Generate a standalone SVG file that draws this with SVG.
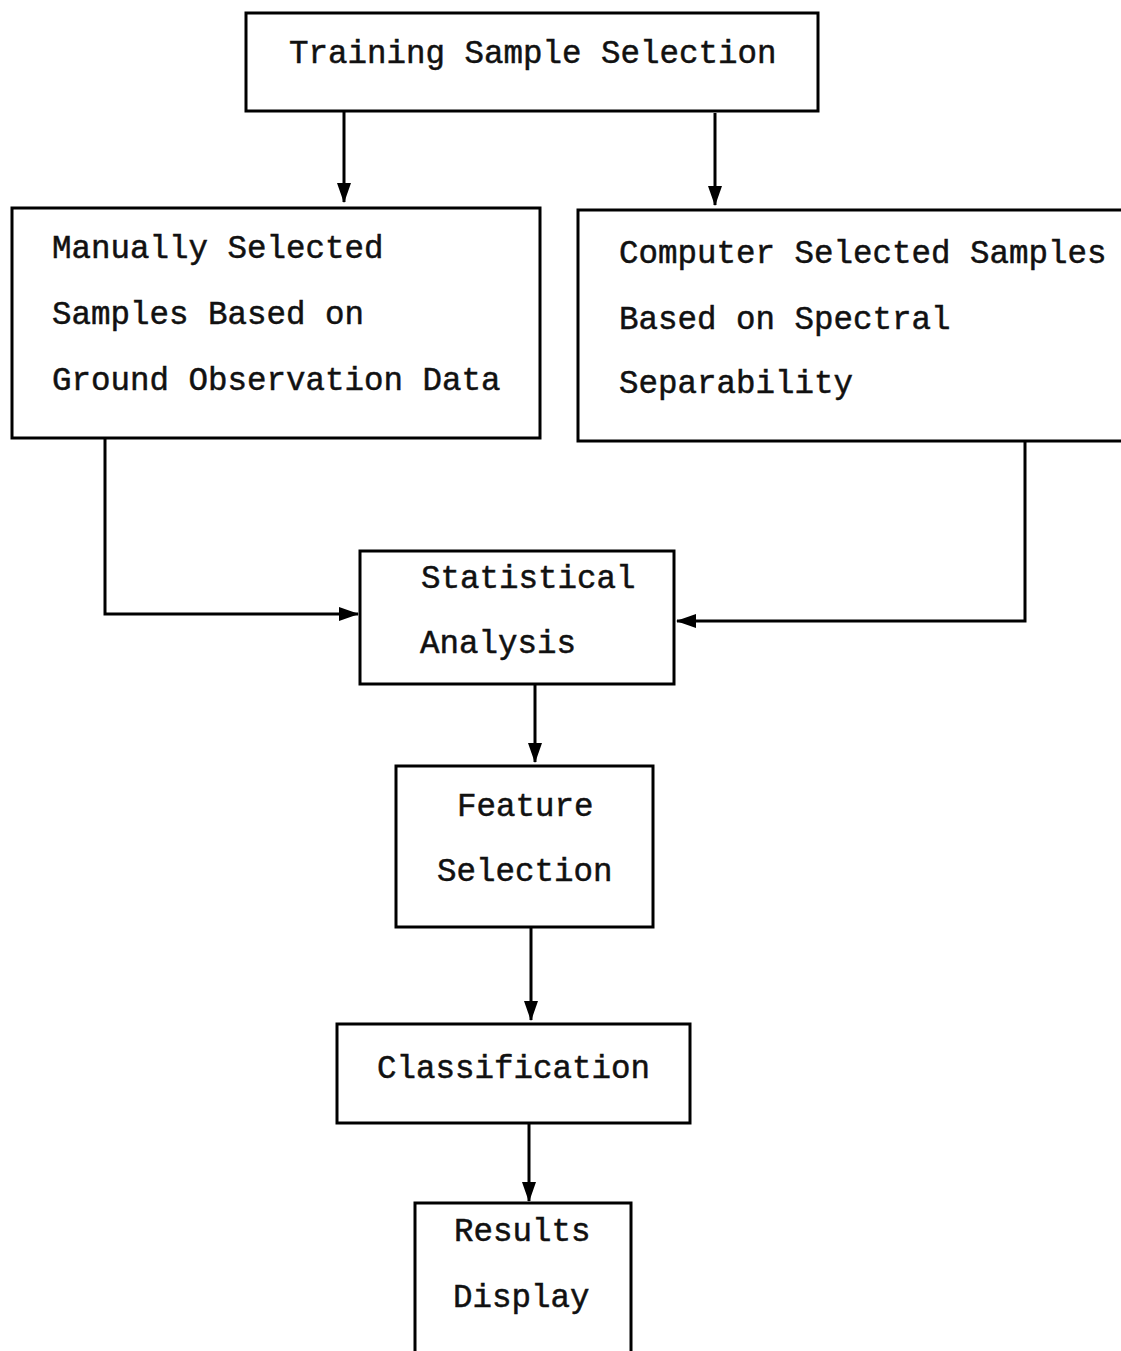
<svg xmlns="http://www.w3.org/2000/svg" width="1121" height="1351" viewBox="0 0 1121 1351">
<style>
.box{fill:#fff;stroke:#000;stroke-width:3}
.lbl{font-family:"Liberation Mono","Courier New",monospace;font-size:32.5px;fill:#111;stroke:#111;stroke-width:0.5}
.con{fill:none;stroke:#000;stroke-width:3}
</style>
<defs>
<marker id="ah" viewBox="0 0 20 14" refX="19" refY="7" markerWidth="20" markerHeight="14" markerUnits="userSpaceOnUse" orient="auto">
<path d="M0,0 L20,7 L0,14 Z" fill="#000"/>
</marker>
</defs>
<rect width="1121" height="1351" fill="#fff"/>
<g id="connectors">
<line class="con" x1="344" y1="111" x2="344" y2="202" marker-end="url(#ah)"/>
<line class="con" x1="715" y1="113" x2="715" y2="205" marker-end="url(#ah)"/>
<polyline class="con" points="105,438 105,614 358,614" marker-end="url(#ah)"/>
<polyline class="con" points="1025,442 1025,621 677,621" marker-end="url(#ah)"/>
<line class="con" x1="535" y1="684" x2="535" y2="762" marker-end="url(#ah)"/>
<line class="con" x1="531" y1="927" x2="531" y2="1020" marker-end="url(#ah)"/>
<line class="con" x1="529" y1="1123" x2="529" y2="1201" marker-end="url(#ah)"/>
</g>
<g id="n-training">
<rect class="box" x="246" y="13" width="572" height="98"/>
<text class="lbl" x="289" y="63">Training Sample Selection</text>
</g>
<g id="n-manual">
<rect class="box" x="12" y="208" width="528" height="230"/>
<text class="lbl" x="52" y="258">Manually Selected</text>
<text class="lbl" x="52" y="324">Samples Based on</text>
<text class="lbl" x="52" y="390">Ground Observation Data</text>
</g>
<g id="n-computer">
<rect class="box" x="578" y="210" width="560" height="231"/>
<text class="lbl" x="619" y="263">Computer Selected Samples</text>
<text class="lbl" x="619" y="329">Based on Spectral</text>
<text class="lbl" x="619" y="393">Separability</text>
</g>
<g id="n-statistical">
<rect class="box" x="360" y="551" width="314" height="133"/>
<text class="lbl" x="421" y="588">Statistical</text>
<text class="lbl" x="420" y="653">Analysis</text>
</g>
<g id="n-feature">
<rect class="box" x="396" y="766" width="257" height="161"/>
<text class="lbl" x="457" y="816">Feature</text>
<text class="lbl" x="437" y="881">Selection</text>
</g>
<g id="n-classification">
<rect class="box" x="337" y="1024" width="353" height="99"/>
<text class="lbl" x="377" y="1078">Classification</text>
</g>
<g id="n-results">
<rect class="box" x="415" y="1203" width="216" height="160"/>
<text class="lbl" x="454" y="1241">Results</text>
<text class="lbl" x="453" y="1307">Display</text>
</g>
</svg>
